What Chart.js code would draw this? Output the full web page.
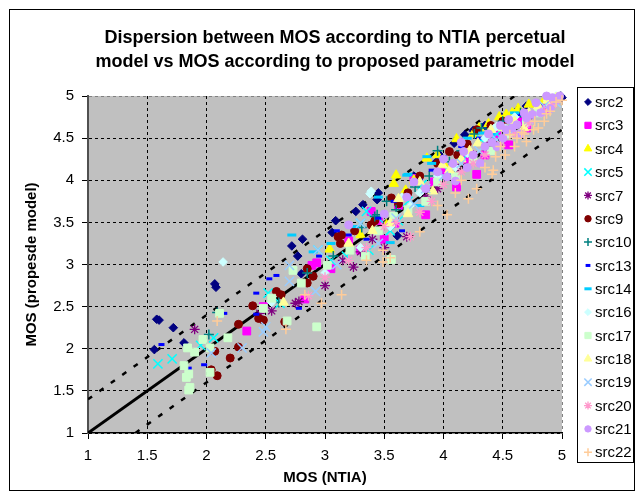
<!DOCTYPE html>
<html>
<head>
<meta charset="utf-8">
<script src="https://cdn.jsdelivr.net/npm/chart.js@4.4.0/dist/chart.umd.min.js"></script>
<style>
    html, body { margin: 0; padding: 0; background: #fff; }
</style>
</head>
<body>
<canvas id="chart1" width="642" height="498"></canvas>
<script>
// title / axis texts
const titleLines = ['Dispersion between MOS according to NTIA percetual', 'model vs MOS according to proposed parametric model'];
const xTitle = 'MOS (NTIA)';
const yTitle = 'MOS (propesde model)';

// axis range (ticks 1, 1.5 ... 5)
const mosMin = 1;
const mosMax = 5;
const mosStep = 0.5;

// reference lines
const diagLine = [[1, 1], [5, 5]];
const upperBound = [[1, 1.4], [4.6, 5]];
const lowerBound = [[1.4, 1], [5, 4.6]];

// [MOS NTIA, MOS model] per source
const src2 = [[1.56, 1.99], [1.58, 2.35], [1.60, 2.34], [1.72, 2.25], [1.81, 2.07], [2.07, 2.77], [2.08, 2.73],
    [2.72, 3.22], [2.77, 3.10], [2.80, 2.89], [2.81, 3.30], [3.06, 3.38], [3.09, 3.52], [3.26, 3.63],
    [3.32, 3.71], [3.44, 3.77], [3.45, 3.85], [3.61, 3.34], [3.75, 4.05], [3.94, 4.22], [3.96, 4.31],
    [4.09, 4.44], [4.18, 4.54], [4.25, 4.59], [4.35, 4.65], [4.49, 4.75], [4.62, 4.83], [4.70, 4.88],
    [4.99, 5.00], [5.00, 4.98]];
const src3 = [[2.34, 2.21], [2.48, 2.50], [2.83, 2.59], [2.89, 2.99], [2.93, 3.02], [3.05, 2.95], [3.20, 3.28],
    [3.30, 3.17], [3.39, 3.63], [3.50, 3.30], [3.59, 3.49], [3.75, 4.02], [3.85, 3.59], [3.98, 4.10],
    [4.11, 3.92], [4.28, 4.07], [4.45, 4.55], [4.55, 4.42], [4.65, 4.70], [4.85, 4.85], [3.62, 3.70],
    [3.92, 3.98], [4.20, 4.25], [4.35, 4.30], [3.45, 3.52], [4.70, 4.62]];
const src4 = [[3.04, 3.18], [3.30, 3.35], [3.52, 3.47], [3.58, 3.96], [3.60, 4.06], [3.86, 4.26], [4.00, 4.20],
    [4.11, 4.49], [4.25, 4.55], [4.38, 4.67], [4.47, 4.75], [4.53, 4.78], [4.63, 4.85], [4.72, 4.90],
    [4.85, 4.95], [3.75, 4.00], [3.95, 4.30], [4.18, 4.42], [4.30, 4.62], [4.58, 4.80], [3.68, 3.88]];
const src5 = [[1.59, 1.82], [1.71, 1.88], [1.95, 2.04], [2.06, 2.13], [2.52, 2.66], [2.62, 2.54], [2.94, 3.17],
    [3.05, 3.05], [3.18, 3.10], [3.30, 3.49], [3.35, 3.63], [3.37, 3.17], [3.55, 3.40], [3.70, 3.75],
    [3.95, 4.05], [4.20, 4.30], [4.45, 4.55], [4.70, 4.75], [4.90, 4.95], [3.45, 3.55], [3.82, 3.95],
    [4.05, 4.10], [4.32, 4.48], [4.58, 4.68], [3.62, 3.52]];
const src7 = [[1.90, 2.23], [2.45, 2.42], [2.55, 2.45], [2.75, 2.54], [2.78, 2.56], [3.00, 2.75], [3.15, 3.05],
    [3.24, 2.97], [3.40, 3.30], [3.50, 3.20], [3.69, 3.33], [3.85, 3.80], [4.10, 4.15], [4.40, 4.45],
    [3.58, 3.55], [3.95, 3.90], [4.25, 4.30], [4.55, 4.58], [3.30, 3.15]];
const src9 = [[2.04, 1.75], [2.07, 1.97], [2.09, 1.68], [2.20, 1.89], [2.27, 2.02], [2.27, 2.29], [2.39, 2.51],
    [2.44, 2.36], [2.48, 2.34], [2.59, 2.68], [2.63, 2.64], [2.66, 2.32], [2.85, 2.78], [2.85, 2.95],
    [2.90, 2.86], [3.11, 3.33], [3.13, 3.25], [3.14, 3.35], [3.39, 3.47], [3.42, 3.52], [3.56, 3.79],
    [3.70, 3.85], [3.95, 4.20], [4.05, 4.34], [4.20, 4.43], [4.28, 4.60], [4.40, 4.65], [3.80, 4.05],
    [3.62, 3.72], [4.12, 4.30], [4.50, 4.70], [3.25, 3.40]];
const src10 = [[2.02, 2.17], [2.09, 2.43], [2.61, 2.55], [2.85, 2.90], [3.07, 3.10], [3.31, 3.44], [3.42, 3.57],
    [3.44, 3.59], [3.60, 3.65], [3.76, 3.92], [3.95, 4.35], [4.05, 4.22], [4.26, 4.55], [4.32, 4.62],
    [4.50, 4.70], [4.80, 4.90], [3.52, 3.75], [3.88, 4.05], [4.15, 4.35], [4.40, 4.60], [4.65, 4.80]];
const src13 = [[1.62, 2.05], [1.85, 1.77], [1.98, 1.81], [2.15, 2.42], [2.42, 2.41], [2.42, 2.66], [2.53, 2.83],
    [2.59, 2.87], [2.78, 2.48], [2.95, 3.10], [3.10, 3.40], [3.20, 3.35], [3.35, 3.30], [3.45, 3.55],
    [3.65, 3.40], [3.80, 4.00], [4.00, 4.28], [4.15, 4.40], [4.50, 4.65], [4.80, 4.90], [3.58, 3.75],
    [3.90, 4.12], [4.30, 4.50], [4.65, 4.78]];
const src14 = [[2.72, 3.35], [2.90, 3.15], [3.05, 3.25], [3.25, 3.45], [3.45, 3.80], [3.55, 3.26], [3.69, 4.06],
    [3.70, 4.07], [3.80, 3.70], [3.86, 4.28], [3.90, 4.20], [4.20, 4.50], [4.33, 4.56], [4.40, 4.55],
    [4.60, 4.80]];
const src16 = [[2.14, 3.03], [2.55, 2.55], [3.00, 2.90], [3.30, 3.20], [3.38, 3.84], [3.39, 3.87], [3.55, 3.45],
    [3.65, 3.80], [3.80, 3.85], [4.10, 4.15], [4.43, 4.62], [4.45, 4.64], [4.60, 4.75], [4.70, 4.68],
    [4.80, 4.85], [4.88, 4.95], [4.95, 5.00], [3.72, 3.70], [3.95, 4.05], [4.20, 4.32], [4.35, 4.50],
    [4.52, 4.62], [4.72, 4.78]];
const src17 = [[1.81, 1.80], [1.83, 1.66], [1.84, 2.01], [1.85, 1.70], [1.85, 1.51], [1.86, 1.54], [1.90, 1.96],
    [1.97, 2.11], [2.03, 2.01], [2.03, 1.72], [2.11, 2.42], [2.18, 2.13], [2.48, 2.48], [2.55, 2.60],
    [2.68, 2.33], [2.73, 2.93], [2.80, 2.78], [2.93, 2.26], [3.02, 2.99], [3.21, 3.17], [3.34, 3.10],
    [3.56, 3.06], [3.58, 3.57], [3.85, 3.75], [4.10, 4.05], [4.40, 4.35], [4.70, 4.70], [4.90, 4.92],
    [3.45, 3.40], [3.70, 3.65], [3.95, 3.98], [4.25, 4.25], [4.55, 4.55], [4.80, 4.80]];
const src18 = [[2.65, 2.55], [3.20, 3.25], [3.40, 3.40], [3.55, 3.49], [3.70, 3.60], [3.91, 3.87], [3.99, 4.18],
    [4.15, 4.25], [4.29, 4.44], [4.40, 4.60], [4.60, 4.70], [4.68, 4.62], [4.80, 4.88], [4.95, 4.98],
    [3.80, 3.98], [4.05, 4.12], [4.22, 4.35], [4.50, 4.62], [4.72, 4.80], [4.88, 4.95], [3.62, 3.78]];
const src19 = [[2.04, 1.95], [2.30, 2.01], [2.48, 2.20], [2.50, 2.26], [2.70, 2.80], [2.70, 2.99], [2.92, 2.68],
    [2.94, 3.17], [3.10, 3.00], [3.30, 3.49], [3.45, 3.25], [3.60, 3.55], [4.00, 4.05], [4.30, 4.35],
    [4.60, 4.60], [4.85, 4.88], [3.75, 3.72], [3.85, 3.90], [4.15, 4.20], [4.45, 4.48], [4.72, 4.72],
    [4.95, 4.92]];
const src20 = [[2.86, 2.63], [3.00, 2.85], [3.20, 3.05], [3.35, 3.20], [3.50, 3.45], [3.72, 3.33], [3.90, 3.75],
    [4.00, 3.95], [4.15, 4.10], [4.35, 4.30], [4.60, 4.55], [4.85, 4.82], [3.60, 3.50], [3.80, 3.62],
    [4.25, 4.20], [4.48, 4.42], [4.72, 4.68], [4.92, 4.90]];
const src21 = [[3.20, 3.47], [3.50, 3.60], [3.69, 3.80], [3.85, 3.90], [4.00, 4.25], [4.03, 4.04], [4.10, 3.99],
    [4.17, 4.34], [4.20, 4.15], [4.25, 4.30], [4.31, 4.20], [4.35, 4.40], [4.41, 4.45], [4.45, 4.40],
    [4.50, 4.50], [4.53, 4.60], [4.58, 4.62], [4.62, 4.66], [4.65, 4.55], [4.70, 4.74], [4.75, 4.78],
    [4.78, 4.92], [4.82, 4.80], [4.87, 5.00], [4.90, 4.85], [4.95, 4.95], [3.75, 3.98], [3.95, 4.10],
    [4.08, 4.20], [4.15, 4.45], [4.38, 4.55], [4.48, 4.65], [4.68, 4.80], [4.98, 5.00], [4.92, 4.98],
    [4.55, 4.72]];
const src22 = [[2.09, 2.33], [2.67, 2.23], [2.83, 2.64], [2.97, 2.54], [3.14, 2.64], [3.35, 3.05], [3.49, 3.03],
    [3.49, 3.17], [3.55, 3.08], [3.80, 3.39], [3.95, 3.70], [4.03, 3.59], [4.10, 3.85], [4.21, 3.78],
    [4.28, 3.90], [4.41, 4.07], [4.42, 4.12], [4.44, 4.28], [4.52, 4.30], [4.56, 4.54], [4.62, 4.50],
    [4.66, 4.57], [4.70, 4.46], [4.76, 4.60], [4.77, 4.70], [4.85, 4.70], [4.87, 4.79], [4.95, 4.93],
    [4.15, 4.00], [4.35, 4.15], [4.60, 4.40], [4.68, 4.55], [4.80, 4.62], [4.90, 4.82], [5.00, 4.95],
    [4.48, 4.40]];

const seriesNames = ['src2', 'src3', 'src4', 'src5', 'src7', 'src9', 'src10', 'src13',
    'src14', 'src16', 'src17', 'src18', 'src19', 'src20', 'src21', 'src22'];
const seriesData = [src2, src3, src4, src5, src7, src9, src10, src13,
    src14, src16, src17, src18, src19, src20, src21, src22];

// excel style markers
const seriesColors = ['#000080', '#FF00FF', '#FFFF00', '#00FFFF', '#800080', '#800000', '#008080', '#0000FF',
    '#00CCFF', '#CCFFFF', '#CCFFCC', '#FFFF99', '#99CCFF', '#FF99CC', '#CC99FF', '#FFCC99'];
const markerStyle = {
    diamond: { pointStyle: 'rectRot', radius: 4.3, border: 1 },
    square: { pointStyle: 'rect', radius: 5.5, border: 1 },
    triangle: { pointStyle: 'triangle', radius: 5.5, border: 1 },
    x: { pointStyle: 'crossRot', radius: 6.5, border: 1.5 },
    star: { pointStyle: 'star', radius: 5, border: 1.3 },
    circle: { pointStyle: 'circle', radius: 4, border: 1 },
    plus: { pointStyle: 'cross', radius: 5, border: 1.5 },
    shortDash: { pointStyle: 'line', radius: 3, border: 3 },
    longDash: { pointStyle: 'line', radius: 4.5, border: 3 },
};
const seriesMarkers = ['diamond', 'square', 'triangle', 'x', 'star', 'circle', 'plus', 'shortDash',
    'longDash', 'diamond', 'square', 'triangle', 'x', 'star', 'circle', 'plus'];

const FONT = 'Arial, "Liberation Sans", sans-serif';
Chart.defaults.font.family = FONT;
Chart.defaults.color = '#000';

const toXY = (arr) => arr.map(p => ({ x: p[0], y: p[1] }));

const pointSets = seriesData.map((pts, i) => {
    const m = markerStyle[seriesMarkers[i]];
    return {
        label: seriesNames[i],
        data: toXY(pts),
        pointStyle: m.pointStyle,
        pointRadius: m.radius,
        pointHoverRadius: m.radius,
        pointBorderWidth: m.border,
        backgroundColor: seriesColors[i],
        borderColor: seriesColors[i],
        showLine: false,
        clip: false,
        order: 20 - i,
    };
});

const lineSets = [
    { data: toXY(diagLine), borderWidth: 3, borderDash: [] },
    { data: toXY(upperBound), borderWidth: 2.5, borderDash: [5, 9] },
    { data: toXY(lowerBound), borderWidth: 2.5, borderDash: [5, 9] },
].map((d, i) => ({
    label: '',
    data: d.data,
    showLine: true,
    borderColor: '#000',
    borderWidth: d.borderWidth,
    borderDash: d.borderDash,
    pointRadius: 0,
    pointHoverRadius: 0,
    fill: false,
    order: 100 + i,
}));

// background, outer frame, title and legend box
const chartFrame = {
    id: 'chartFrame',
    beforeDraw(chart) {
        const { ctx, chartArea: a } = chart;
        ctx.save();
        ctx.fillStyle = '#fff';
        ctx.fillRect(0, 0, chart.width, chart.height);
        ctx.fillStyle = '#C0C0C0';
        ctx.fillRect(a.left, a.top, a.right - a.left, a.bottom - a.top);
        ctx.restore();
    },
    afterDraw(chart) {
        const ctx = chart.ctx;
        ctx.save();
        ctx.strokeStyle = '#000';
        ctx.lineWidth = 1;
        ctx.strokeRect(9.5, 9.5, 625, 481);

        ctx.fillStyle = '#000';
        ctx.font = 'bold 18px ' + FONT;
        ctx.textAlign = 'center';
        ctx.textBaseline = 'middle';
        titleLines.forEach((t, i) => ctx.fillText(t, 335, 38 + i * 24));

        // legend
        ctx.strokeRect(577.5, 87.5, 56, 375);
        ctx.font = '15px ' + FONT;
        ctx.textAlign = 'left';
        seriesNames.forEach((name, i) => {
            const y = 102 + i * 23.35;
            const m = markerStyle[seriesMarkers[i]];
            ctx.fillStyle = seriesColors[i];
            ctx.strokeStyle = seriesColors[i];
            ctx.lineWidth = m.border;
            Chart.helpers.drawPoint(ctx, {
                pointStyle: m.pointStyle,
                radius: m.radius * 0.8,
                borderWidth: m.border,
                rotation: 0,
            }, 588, y);
            ctx.fillStyle = '#000';
            ctx.fillText(name, 595, y + 1);
        });
        ctx.restore();
    }
};

const edgeGrid = (c) => (c.tick && c.tick.value === mosMax) ? '#808080' : '#000';
const plainTick = (value) => String(value);

const chart1 = new Chart(document.querySelector('#chart1'), {
    type: 'scatter',
    data: {
        datasets: [...pointSets, ...lineSets],
    },
    options: {
        responsive: false,
        animation: false,
        events: [],
        layout: {
            padding: { left: 8, right: 80, top: 96, bottom: 8 },
        },
        scales: {
            x: {
                type: 'linear',
                min: mosMin,
                max: mosMax,
                ticks: {
                    stepSize: mosStep,
                    padding: 8,
                    maxRotation: 0,
                    font: { size: 15 },
                    callback: plainTick,
                },
                grid: {
                    color: edgeGrid,
                    tickColor: '#000',
                    tickLength: 6,
                    tickBorderDash: [],
                },
                border: { color: '#000', width: 1.5, dash: [3, 3] },
                title: {
                    display: true,
                    text: xTitle,
                    font: { size: 15, weight: 'bold' },
                    padding: { top: 0, bottom: 3 },
                },
                afterFit: (s) => { s.height = 57; },
            },
            y: {
                type: 'linear',
                min: mosMin,
                max: mosMax,
                ticks: {
                    stepSize: mosStep,
                    padding: 8,
                    font: { size: 15 },
                    callback: plainTick,
                },
                grid: {
                    color: edgeGrid,
                    tickColor: '#000',
                    tickLength: 6,
                    tickBorderDash: [],
                },
                border: { color: '#505050', width: 2, dash: [3, 3] },
                title: {
                    display: true,
                    text: yTitle,
                    font: { size: 15, weight: 'bold' },
                    padding: { top: 15, bottom: 0 },
                },
                afterFit: (s) => { s.width = 80; },
            }
        },
        plugins: {
            legend: { display: false },
            title: { display: false },
            tooltip: { enabled: false },
        },
    },
    plugins: [chartFrame],
});
</script>
</body>
</html>
